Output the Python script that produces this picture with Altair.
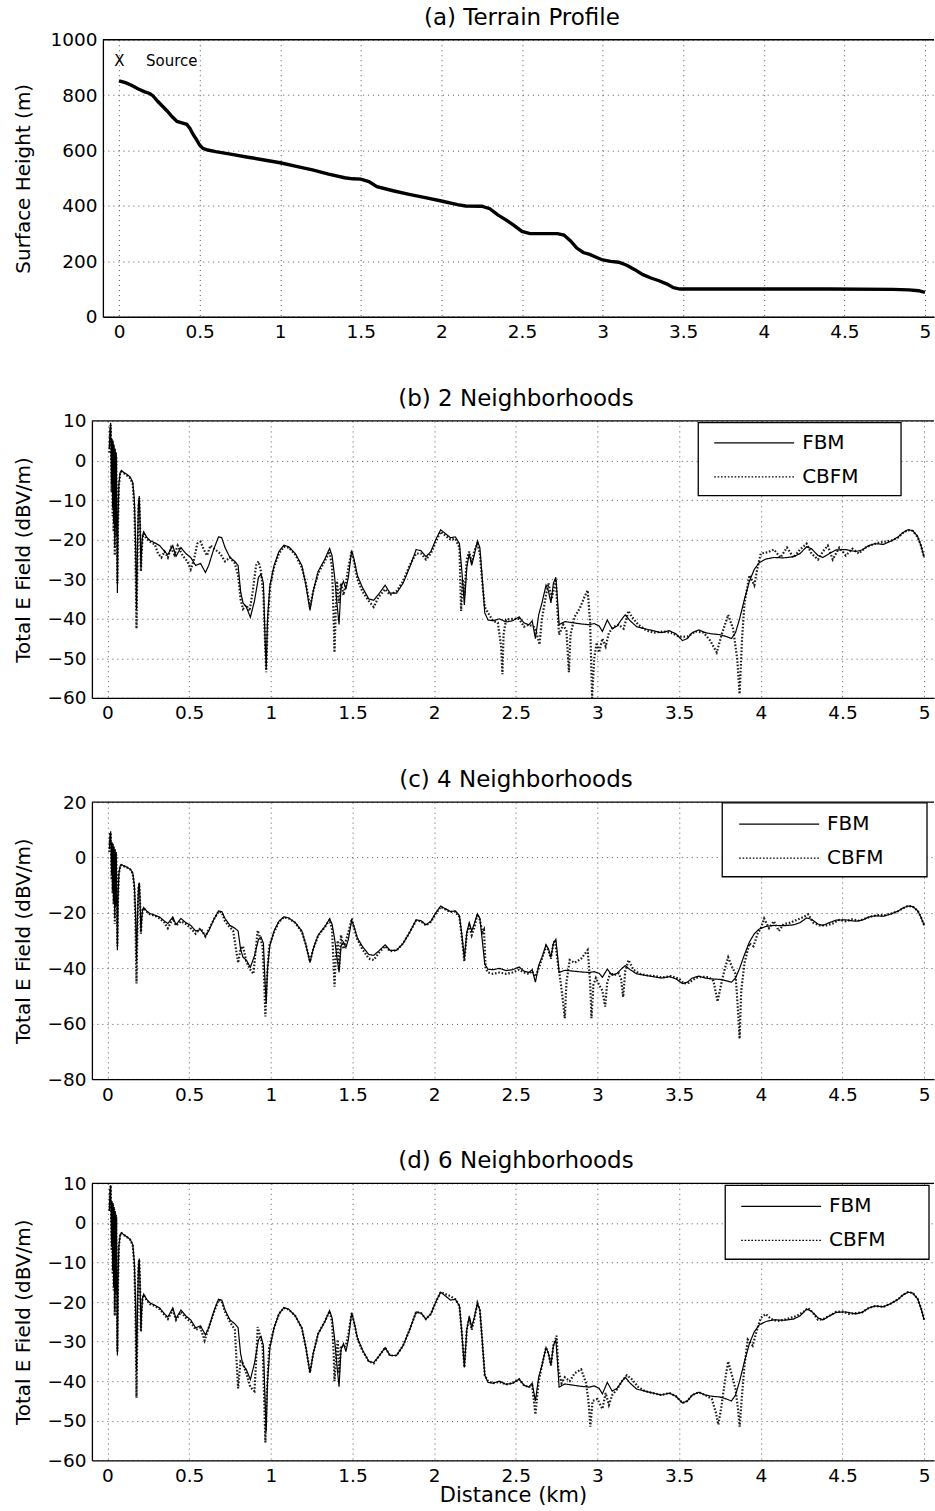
import altair as alt
import pandas as pd

FONT = "DejaVu Sans"

# ---------------- data ----------------
X_TICKS = [0, 0.5, 1, 1.5, 2, 2.5, 3, 3.5, 4, 4.5, 5]

TERRAIN = [(0.0, 852), (0.04, 845), (0.08, 835), (0.12, 822), (0.16, 812), (0.19, 806),
           (0.21, 798), (0.24, 778), (0.27, 760), (0.3, 742), (0.33, 722), (0.36, 705),
           (0.39, 700), (0.42, 695), (0.44, 680), (0.46, 658), (0.48, 640), (0.5, 620),
           (0.52, 608), (0.55, 602), (0.6, 596), (0.7, 586), (0.8, 576), (0.9, 566),
           (1.0, 556), (1.1, 543), (1.2, 530), (1.3, 515), (1.4, 502), (1.45, 498),
           (1.5, 497), (1.55, 488), (1.6, 470), (1.7, 455), (1.8, 442), (1.9, 430),
           (2.0, 418), (2.1, 405), (2.15, 400), (2.25, 399), (2.3, 390), (2.35, 368),
           (2.4, 350), (2.45, 330), (2.5, 308), (2.55, 300), (2.65, 300), (2.72, 300),
           (2.76, 295), (2.8, 275), (2.84, 248), (2.88, 232), (2.92, 225), (2.96, 215),
           (3.0, 205), (3.05, 200), (3.1, 197), (3.15, 186), (3.2, 170), (3.25, 152),
           (3.3, 140), (3.35, 130), (3.4, 118), (3.44, 105), (3.48, 100), (3.6, 100),
           (4.0, 100), (4.4, 100), (4.8, 99), (4.9, 97), (4.96, 94), (5.0, 88)]

SOURCE_LABELS = [(-0.03, 925, "X"), (0.168, 925, "Source")]

FBM = [(0.012, 3), (0.016, 8), (0.02, 9.5), (0.023, 1), (0.026, -6), (0.029, 5.5), (0.032, -12),
       (0.035, 5), (0.038, -16), (0.041, 4), (0.045, -22), (0.048, 3), (0.051, -17), (0.054, 2),
       (0.058, -15), (0.061, -33.5), (0.065, -15), (0.07, -6), (0.078, -3), (0.086, -2.5),
       (0.1, -3), (0.12, -3.5), (0.14, -4.2), (0.155, -5.5), (0.165, -10), (0.172, -20),
       (0.178, -37.5), (0.185, -20), (0.19, -11), (0.195, -9), (0.2, -16), (0.205, -27),
       (0.21, -22), (0.215, -19), (0.222, -18), (0.24, -19.3), (0.26, -20.2), (0.29, -20.8),
       (0.32, -21.5), (0.35, -23), (0.37, -23.8), (0.4, -21.5), (0.42, -24.2), (0.45, -22),
       (0.48, -23.5), (0.51, -24.5), (0.54, -26.5), (0.57, -26), (0.6, -28.3), (0.62, -26.5),
       (0.65, -22.5), (0.68, -19.3), (0.7, -19.5), (0.72, -22), (0.75, -24.5), (0.78, -25.5),
       (0.8, -26.5), (0.815, -33), (0.83, -36), (0.85, -37), (0.875, -39.6), (0.9, -35.5),
       (0.925, -29.5), (0.94, -28.7), (0.955, -31), (0.965, -45), (0.972, -52.8), (0.98, -40),
       (0.995, -31.5), (1.02, -26.5), (1.05, -23), (1.08, -21.4), (1.11, -21.8), (1.15, -23.5),
       (1.19, -26.5), (1.215, -31.5), (1.24, -37.9), (1.26, -33), (1.29, -28), (1.33, -25),
       (1.36, -22.2), (1.375, -24), (1.39, -29), (1.405, -36), (1.418, -41.4), (1.43, -32),
       (1.445, -30.5), (1.46, -32.5), (1.475, -29.5), (1.495, -22.7), (1.51, -25), (1.53, -29),
       (1.56, -32), (1.6, -35), (1.63, -35.3), (1.66, -33.8), (1.7, -31.5), (1.73, -33.5),
       (1.77, -33.5), (1.81, -31), (1.85, -27), (1.89, -22.5), (1.92, -22.8), (1.95, -24.3),
       (1.98, -23), (2.01, -20), (2.04, -17.5), (2.07, -18.5), (2.1, -19.5), (2.13, -19.3),
       (2.155, -21), (2.17, -28), (2.185, -36.5), (2.2, -27), (2.215, -23.5), (2.23, -26.5),
       (2.245, -24), (2.265, -20.3), (2.28, -22), (2.295, -30), (2.31, -38.5), (2.33, -40.3),
       (2.36, -40.5), (2.4, -40), (2.44, -40.8), (2.48, -40.5), (2.52, -39.5), (2.55, -41),
       (2.58, -41.5), (2.6, -40.5), (2.62, -45), (2.64, -39), (2.66, -36), (2.685, -31.5),
       (2.7, -33), (2.715, -36), (2.73, -31), (2.745, -29.5), (2.755, -35), (2.765, -41.5),
       (2.8, -40.7), (2.85, -41), (2.9, -41.3), (2.95, -41.5), (2.98, -41.2), (3.01, -41.8),
       (3.03, -43.2), (3.06, -40.3), (3.09, -42.5), (3.12, -41.8), (3.15, -40), (3.17, -39),
       (3.2, -40.5), (3.24, -42), (3.29, -42.5), (3.34, -43), (3.39, -43.5), (3.44, -43),
       (3.48, -43.8), (3.52, -45.5), (3.55, -45), (3.58, -43.5), (3.62, -42.8), (3.66, -43.5),
       (3.7, -43.8), (3.75, -44), (3.79, -44.5), (3.82, -45), (3.845, -43.5), (3.87, -40),
       (3.9, -35), (3.93, -30.5), (3.96, -27.5), (3.99, -25.8), (4.03, -24.9), (4.08, -24.5),
       (4.14, -24.6), (4.2, -24.3), (4.24, -23.5), (4.28, -21.8), (4.31, -22.3), (4.35, -24),
       (4.38, -24.5), (4.42, -23.5), (4.46, -22.6), (4.52, -22.5), (4.58, -23), (4.62, -22.6),
       (4.66, -21.5), (4.7, -21), (4.75, -21.2), (4.8, -20.3), (4.84, -19.3), (4.87, -18.2),
       (4.9, -17.5), (4.93, -17.7), (4.96, -19.2), (4.98, -21.5), (5.0, -24.5)]

CBFM_2 = [(0.012, 2), (0.016, 7), (0.02, 9), (0.023, 0), (0.026, -8), (0.029, 5), (0.032, -14),
          (0.035, 4), (0.038, -18), (0.041, 3), (0.045, -24), (0.048, 2), (0.051, -19), (0.054, 1),
          (0.058, -16), (0.061, -31), (0.065, -16), (0.07, -6.5), (0.078, -3.2), (0.086, -2.8),
          (0.1, -3.2), (0.12, -3.8), (0.14, -4.5), (0.155, -6), (0.165, -12), (0.172, -25),
          (0.178, -42.5), (0.185, -22), (0.19, -12), (0.195, -9.5), (0.2, -17), (0.205, -28),
          (0.21, -23), (0.215, -19.5), (0.222, -18.5), (0.24, -19.8), (0.26, -20.5), (0.29, -21.2),
          (0.31, -23.5), (0.33, -24.5), (0.35, -23), (0.37, -24.5), (0.39, -22), (0.41, -23.8),
          (0.43, -21.5), (0.46, -24), (0.49, -25.5), (0.51, -27.5), (0.53, -25), (0.55, -21),
          (0.57, -20.5), (0.59, -22.5), (0.61, -24), (0.63, -21.5), (0.66, -22.5), (0.69, -23.5),
          (0.72, -25.5), (0.75, -24.5), (0.78, -26), (0.8, -29), (0.815, -35), (0.83, -37.5),
          (0.85, -36.5), (0.87, -38), (0.89, -33), (0.91, -26.5), (0.925, -25.5), (0.94, -28),
          (0.955, -34), (0.965, -46), (0.972, -53.5), (0.98, -42), (0.995, -32), (1.02, -27),
          (1.05, -23.5), (1.08, -21.8), (1.11, -22), (1.15, -23.8), (1.19, -27), (1.215, -31),
          (1.24, -37), (1.26, -33), (1.29, -28.5), (1.33, -25.5), (1.36, -23), (1.375, -27),
          (1.385, -40), (1.39, -48.5), (1.398, -38), (1.405, -30.5), (1.418, -36), (1.43, -31),
          (1.445, -34), (1.46, -31), (1.475, -27), (1.495, -23), (1.51, -25.5), (1.53, -30),
          (1.56, -33), (1.6, -35.5), (1.63, -37), (1.66, -34.5), (1.7, -32.5), (1.73, -34),
          (1.77, -33), (1.81, -30.5), (1.85, -26.5), (1.89, -23.5), (1.92, -23.5), (1.95, -25),
          (1.98, -23.5), (2.01, -20.5), (2.04, -18), (2.07, -19), (2.1, -20), (2.13, -19.8),
          (2.155, -22), (2.165, -38), (2.175, -30), (2.185, -34), (2.2, -25), (2.215, -23),
          (2.23, -26), (2.245, -23), (2.265, -21), (2.28, -23.5), (2.295, -31), (2.31, -37),
          (2.33, -38.5), (2.36, -40.5), (2.39, -41), (2.41, -47), (2.418, -54), (2.425, -44),
          (2.44, -40.2), (2.48, -40), (2.52, -40), (2.55, -42), (2.58, -41.5), (2.61, -42),
          (2.63, -44), (2.645, -46.5), (2.66, -40), (2.685, -34), (2.7, -31), (2.72, -35),
          (2.745, -30), (2.755, -38), (2.765, -44), (2.79, -41.5), (2.81, -43), (2.825, -53.5),
          (2.835, -44), (2.86, -39.5), (2.89, -37.5), (2.92, -34.5), (2.94, -32.8), (2.955, -41),
          (2.967, -60), (2.98, -50), (2.995, -46), (3.01, -48.5), (3.03, -45), (3.05, -47),
          (3.07, -43.5), (3.1, -42), (3.13, -41.5), (3.16, -42.5), (3.19, -38), (3.21, -39.5),
          (3.25, -41.5), (3.3, -43), (3.35, -43.5), (3.4, -43.2), (3.45, -43.5), (3.5, -44.5),
          (3.55, -44.5), (3.6, -43.2), (3.65, -43.5), (3.69, -45.5), (3.73, -48.5), (3.76, -44),
          (3.8, -39), (3.83, -42.5), (3.855, -50), (3.87, -59), (3.885, -45), (3.9, -36),
          (3.93, -29), (3.96, -31.5), (3.98, -27), (4.0, -23.5), (4.04, -23.2), (4.08, -22.5),
          (4.12, -24.5), (4.16, -22), (4.2, -24.5), (4.24, -22.5), (4.28, -21), (4.31, -23.5),
          (4.35, -25), (4.38, -23), (4.41, -21.5), (4.44, -25), (4.48, -22), (4.52, -24),
          (4.56, -22.3), (4.6, -23.5), (4.64, -22), (4.68, -21.3), (4.72, -20.8), (4.76, -20.5),
          (4.8, -20.2), (4.84, -19.5), (4.87, -18.3), (4.9, -17.6), (4.93, -17.8), (4.96, -19.3),
          (4.98, -21.5), (5.0, -24.5)]

CBFM_4 = [(0.012, 2), (0.016, 8.5), (0.02, 9), (0.023, 0), (0.026, -8), (0.029, 5), (0.032, -13),
          (0.035, 4), (0.038, -17), (0.041, 3), (0.045, -24), (0.048, 2), (0.051, -18), (0.054, 1),
          (0.058, -16), (0.061, -32), (0.065, -15), (0.07, -6), (0.078, -3), (0.086, -2.7),
          (0.1, -3.1), (0.12, -3.6), (0.14, -4.3), (0.155, -5.8), (0.165, -11), (0.172, -24),
          (0.178, -45.5), (0.185, -21), (0.19, -11), (0.195, -9.5), (0.2, -16.5), (0.205, -27.5),
          (0.21, -22), (0.215, -19), (0.222, -18.3), (0.24, -19.5), (0.26, -20.5), (0.29, -21),
          (0.32, -22), (0.35, -23.5), (0.37, -25.5), (0.4, -22), (0.42, -24.5), (0.45, -23),
          (0.48, -24), (0.51, -25.5), (0.54, -27.5), (0.57, -25.5), (0.6, -28.5), (0.62, -26),
          (0.65, -22.5), (0.68, -19.5), (0.7, -19.8), (0.72, -23), (0.74, -24.5), (0.77, -26.5),
          (0.8, -38), (0.815, -33), (0.83, -32), (0.85, -37.5), (0.875, -40.5), (0.894, -42),
          (0.905, -35), (0.92, -26.3), (0.935, -29), (0.95, -32), (0.96, -45), (0.967, -57.4),
          (0.975, -45), (0.99, -32), (1.02, -27), (1.05, -23.2), (1.08, -21.6), (1.11, -22),
          (1.15, -23.6), (1.19, -26.8), (1.215, -31.5), (1.24, -37.5), (1.26, -33), (1.29, -28.2),
          (1.33, -25.2), (1.36, -22.5), (1.375, -26), (1.385, -39), (1.39, -46.6), (1.398, -36),
          (1.41, -30), (1.418, -40.5), (1.43, -28), (1.445, -33), (1.46, -30), (1.475, -27),
          (1.496, -22), (1.51, -25.5), (1.53, -29.5), (1.56, -33), (1.6, -36.5), (1.63, -37),
          (1.66, -34.5), (1.7, -32), (1.73, -33.8), (1.77, -33.5), (1.81, -31), (1.85, -27),
          (1.89, -22.8), (1.92, -23), (1.95, -24.5), (1.98, -23.2), (2.01, -20.2), (2.04, -17.8),
          (2.07, -18.8), (2.1, -19.6), (2.13, -19.5), (2.155, -21.5), (2.17, -29), (2.185, -37.5),
          (2.2, -27.5), (2.215, -24.5), (2.23, -28), (2.245, -25.5), (2.265, -20.5), (2.28, -22.5),
          (2.295, -27), (2.305, -26), (2.315, -40), (2.33, -41.5), (2.36, -42), (2.4, -41.5),
          (2.44, -42), (2.48, -41.5), (2.52, -40.5), (2.55, -41.5), (2.58, -42), (2.6, -41),
          (2.62, -43), (2.64, -40), (2.66, -36.5), (2.685, -32), (2.7, -33.5), (2.715, -36.5),
          (2.73, -31), (2.74, -29.8), (2.755, -37), (2.77, -43), (2.785, -50), (2.8, -58),
          (2.81, -45), (2.83, -37), (2.86, -38), (2.9, -36.5), (2.94, -33.4), (2.955, -45),
          (2.963, -58), (2.975, -46), (2.99, -43.5), (3.01, -46), (3.03, -48), (3.047, -53.8),
          (3.06, -45), (3.08, -41.5), (3.1, -42.5), (3.13, -41.8), (3.145, -44), (3.157, -50.4),
          (3.17, -41), (3.19, -37), (3.22, -40.5), (3.26, -42), (3.3, -42.5), (3.35, -42.8),
          (3.4, -43.3), (3.45, -42.8), (3.5, -43.8), (3.53, -45.5), (3.56, -45.2), (3.6, -43.5),
          (3.64, -43), (3.68, -43.2), (3.71, -44.5), (3.735, -52), (3.76, -45), (3.78, -40),
          (3.8, -36), (3.82, -39), (3.845, -42), (3.86, -55), (3.87, -65.4), (3.88, -48),
          (3.9, -38), (3.93, -31), (3.955, -32), (3.98, -27.5), (4.0, -25.5), (4.02, -22),
          (4.05, -25.5), (4.08, -23), (4.11, -26.5), (4.14, -24), (4.18, -23.5), (4.22, -22.5),
          (4.26, -21.5), (4.29, -20.5), (4.32, -23.5), (4.36, -24.5), (4.4, -24.5), (4.44, -23.8),
          (4.48, -22.5), (4.52, -23), (4.56, -22.3), (4.6, -22.8), (4.64, -22), (4.68, -21.2),
          (4.72, -20.8), (4.76, -20.8), (4.8, -20.2), (4.84, -19.4), (4.87, -18.3), (4.9, -17.5),
          (4.93, -17.7), (4.96, -19.2), (4.98, -21.5), (5.0, -24.5)]

CBFM_6 = [(0.012, 3), (0.016, 8.5), (0.02, 9.5), (0.023, 0.5), (0.026, -7), (0.029, 5), (0.032, -13),
          (0.035, 4.5), (0.038, -17), (0.041, 3.5), (0.045, -23.5), (0.048, 2.5), (0.051, -18),
          (0.054, 1.5), (0.058, -15.5), (0.061, -32.5), (0.065, -15), (0.07, -6), (0.078, -3),
          (0.086, -2.6), (0.1, -3), (0.12, -3.6), (0.14, -4.3), (0.155, -5.7), (0.165, -11),
          (0.172, -23), (0.178, -44.2), (0.185, -21), (0.19, -11), (0.195, -9.3), (0.2, -16.5),
          (0.205, -27.5), (0.21, -22), (0.215, -19.2), (0.222, -18.2), (0.24, -19.5), (0.26, -20.5),
          (0.29, -21), (0.32, -21.8), (0.35, -23.3), (0.37, -24.3), (0.4, -22), (0.42, -24.5),
          (0.45, -22.5), (0.48, -24), (0.51, -25), (0.54, -27), (0.57, -26.5), (0.595, -29.7),
          (0.62, -26.5), (0.65, -22.8), (0.68, -19.5), (0.7, -19.8), (0.72, -22.5), (0.75, -25),
          (0.78, -27), (0.8, -41.8), (0.815, -35), (0.83, -35.5), (0.85, -38), (0.875, -41.5),
          (0.9, -42.5), (0.91, -35), (0.92, -26.3), (0.935, -28.5), (0.95, -31), (0.96, -45),
          (0.967, -55.5), (0.975, -44), (0.99, -31.5), (1.02, -26.6), (1.05, -23), (1.08, -21.5),
          (1.11, -21.9), (1.15, -23.5), (1.19, -26.6), (1.215, -31.5), (1.24, -37.8), (1.26, -33),
          (1.29, -28), (1.33, -25), (1.36, -22.3), (1.375, -25), (1.385, -33), (1.39, -40),
          (1.4, -34), (1.41, -29.5), (1.418, -38), (1.43, -31), (1.445, -31.5), (1.46, -31),
          (1.475, -28), (1.495, -22.8), (1.51, -25.2), (1.53, -29.2), (1.56, -32.2), (1.6, -35),
          (1.63, -35.5), (1.66, -33.8), (1.7, -31.5), (1.73, -33.5), (1.77, -33.5), (1.81, -31),
          (1.85, -27), (1.89, -22.5), (1.92, -22.8), (1.95, -24.3), (1.98, -23), (2.01, -20),
          (2.04, -17.5), (2.07, -18), (2.1, -18.5), (2.13, -19.3), (2.155, -21), (2.17, -28),
          (2.185, -36.5), (2.2, -27), (2.215, -24), (2.23, -27), (2.245, -24.5), (2.265, -20.3),
          (2.28, -22), (2.295, -30), (2.31, -38.5), (2.33, -40), (2.36, -40.5), (2.4, -40.2),
          (2.44, -40.8), (2.48, -40.5), (2.52, -39.5), (2.55, -41), (2.58, -41.5), (2.6, -41),
          (2.62, -48.4), (2.64, -40), (2.66, -36), (2.685, -31.5), (2.7, -33), (2.715, -36),
          (2.73, -31), (2.75, -28.5), (2.76, -37), (2.78, -40.5), (2.8, -39), (2.83, -40),
          (2.86, -38), (2.9, -37), (2.93, -40.5), (2.945, -45), (2.956, -51.5), (2.97, -45),
          (3.0, -44.5), (3.03, -47), (3.05, -43), (3.07, -46), (3.09, -43.5), (3.12, -42),
          (3.15, -40), (3.18, -38.5), (3.21, -39.5), (3.25, -41.5), (3.29, -42.5), (3.34, -43),
          (3.39, -43.5), (3.44, -43), (3.48, -43.8), (3.52, -45.5), (3.55, -45), (3.58, -43.5),
          (3.62, -42.8), (3.66, -43.5), (3.7, -44.5), (3.725, -48), (3.74, -51), (3.76, -46),
          (3.78, -40), (3.8, -35), (3.82, -38), (3.845, -42), (3.86, -47), (3.87, -51.5),
          (3.885, -43.5), (3.9, -36), (3.92, -29.5), (3.95, -31), (3.98, -26.5), (4.0, -24),
          (4.03, -23), (4.06, -24.2), (4.1, -24.8), (4.14, -24.5), (4.18, -24), (4.22, -23.5),
          (4.26, -22.5), (4.29, -21.5), (4.32, -22.8), (4.35, -24.5), (4.38, -24.3), (4.42, -23.5),
          (4.46, -22.5), (4.5, -22.4), (4.54, -23), (4.58, -22.8), (4.62, -22.6), (4.66, -21.5),
          (4.7, -21), (4.75, -21.2), (4.8, -20.3), (4.84, -19.3), (4.87, -18.2), (4.9, -17.5),
          (4.93, -17.7), (4.96, -19.2), (4.98, -21.5), (5.0, -24.5)]

# ---------------- layout constants ----------------
W = 843
H = 277.3
XB = [-0.095, 5.06]
XA = [-0.1, 5.056]
A_SHIFT = 11
DUMMY = pd.DataFrame({"d": [0]})


def x_axis(title=None):
    if title:
        return alt.Axis(values=X_TICKS, format="~g", grid=True, ticks=False, labelPadding=6,
                        labelFlush=False, title=title, titleFontSize=21, titlePadding=0)
    return alt.Axis(values=X_TICKS, format="~g", grid=True, ticks=False, labelPadding=6,
                    labelFlush=False, title=None)


def top_border(x0):
    return alt.Chart(DUMMY).mark_rule(color="black", strokeWidth=1.3).encode(
        x=alt.value(x0), x2=alt.value(W), y=alt.value(0))


# ---------------- panel (a) ----------------
tdf = pd.DataFrame(TERRAIN, columns=["x", "h"])
sdf = pd.DataFrame(SOURCE_LABELS, columns=["x", "h", "t"])
xa = alt.X("x:Q", scale=alt.Scale(domain=XA, range=[A_SHIFT, W], nice=False, zero=False),
           axis=x_axis())
ya = alt.Y("h:Q", scale=alt.Scale(domain=[0, 1000], nice=False),
           axis=alt.Axis(values=[0, 200, 400, 600, 800, 1000], format="d",
                         title="Surface Height (m)", offset=-A_SHIFT, titlePadding=16,
                         labelPadding=6, grid=True, ticks=False))
terrain = alt.Chart(tdf).mark_line(color="black", strokeWidth=3.4).encode(x=xa, y=ya)
src = alt.Chart(sdf).mark_text(align="left", baseline="middle", font=FONT, fontSize=15,
                               color="black").encode(x=xa, y=ya, text="t:N")
panel_a = alt.layer(terrain, src, top_border(A_SHIFT)).properties(
    width=W, height=H, title=alt.TitleParams("(a) Terrain Profile", dx=9))


# ---------------- field panels ----------------
def field_panel(title, cbfm, ydom, yticks, leg_x, leg_y, box, xtitle=None):
    dfc = pd.DataFrame(cbfm, columns=["x", "y"])
    dfc["series"] = "CBFM"
    dff = pd.DataFrame(FBM, columns=["x", "y"])
    dff["series"] = "FBM"
    x = alt.X("x:Q", scale=alt.Scale(domain=XB, nice=False, zero=False), axis=x_axis(xtitle))
    y = alt.Y("y:Q", scale=alt.Scale(domain=ydom, nice=False, zero=False),
              axis=alt.Axis(values=yticks, title="Total E Field (dBV/m)", titlePadding=13,
                            labelPadding=6, grid=True, ticks=False))
    dash = alt.StrokeDash(
        "series:N",
        scale=alt.Scale(domain=["FBM", "CBFM"], range=[[1, 0], [1.6, 1.8]]),
        legend=alt.Legend(orient="none", legendX=leg_x, legendY=leg_y, title=None),
    )
    cb_line = alt.Chart(dfc).mark_line(color="#1e1e1e", strokeWidth=2.2, clip=True).encode(
        x=x, y=y, strokeDash=dash)
    fb_line = alt.Chart(dff).mark_line(color="black", strokeWidth=1.2, clip=True).encode(
        x=x, y=y, strokeDash=dash)
    frame = alt.Chart(DUMMY).mark_rect(fill="white", stroke="black", strokeWidth=1.3).encode(
        x=alt.value(box[0]), x2=alt.value(box[1]), y=alt.value(box[2]), y2=alt.value(box[3]))
    return alt.layer(cb_line, fb_line, top_border(0), frame).properties(
        width=W, height=H, title=alt.TitleParams(title, dx=3))


panel_b = field_panel("(b) 2 Neighborhoods", CBFM_2, [-60, 10], list(range(-60, 11, 10)),
                      622, 12, (607, 810, 1.7, 74.7))
panel_c = field_panel("(c) 4 Neighborhoods", CBFM_4, [-80, 20], list(range(-80, 21, 20)),
                      647, 12, (631, 836, 0.7, 74.7))
panel_d = field_panel("(d) 6 Neighborhoods", CBFM_6, [-60, 10], list(range(-60, 11, 10)),
                      649, 13, (634, 838, 2, 76), xtitle="Distance (km)")

chart = alt.vconcat(panel_a, panel_b, panel_c, panel_d, spacing=103.6, bounds="flush").resolve_scale(
    strokeDash="independent"
).resolve_legend(
    strokeDash="independent"
).properties(
    padding={"left": 13, "top": 6, "right": 0, "bottom": 0}
).configure_view(stroke=None).configure_axis(
    labelFont=FONT, labelFontSize=18.5, labelColor="black",
    titleFont=FONT, titleFontSize=20, titleColor="black", titleFontWeight="normal",
    domainColor="black", domainWidth=1.3,
    gridColor="#555555", gridDash=[1, 4], gridWidth=1, gridOpacity=1,
).configure_title(
    font=FONT, fontSize=23, fontWeight="normal", color="black", anchor="middle",
    offset=1, baseline="bottom", frame="group",
).configure_legend(
    labelFont=FONT, labelFontSize=20, labelColor="black",
    symbolType="stroke", symbolSize=6400, symbolStrokeWidth=1.2, symbolStrokeColor="black",
    labelOffset=7, rowPadding=14, clipHeight=20, padding=0,
)

chart.save("out.html", embed_options={"renderer": "svg", "actions": False})
